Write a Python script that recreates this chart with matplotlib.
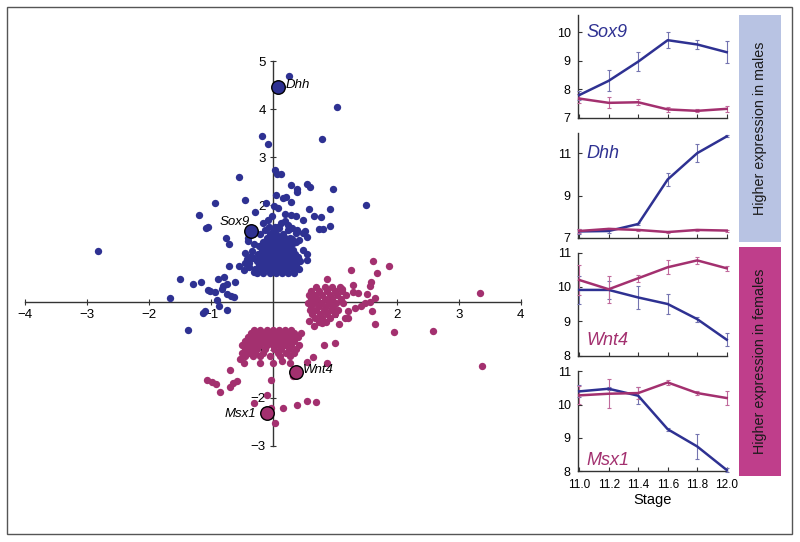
import matplotlib
matplotlib.use('Agg')
import matplotlib.pyplot as plt
from matplotlib.patches import Rectangle

plt.rcParams['font.family'] = ['Liberation Sans', 'DejaVu Sans']

BLUE = '#2e3192'
MAG = '#a3306f'
BLUE_ERR = '#7474b0'
MAG_ERR = '#c06a9c'
BAR_BLUE = '#b8c3e3'
BAR_MAG = '#bf3e8b'

# ---------------- scatter data ----------------
blue_pts = [
    (0.26, 4.69), (1.03, 4.05), (-0.17, 3.44), (-0.08, 3.27), (0.80, 3.37), (0.03, 2.74),
    (0.07, 2.65), (0.13, 2.65), (-0.54, 2.60), (0.30, 2.43), (0.39, 2.35), (0.39, 2.28),
    (0.56, 2.45), (0.60, 2.39), (0.97, 2.34), (0.05, 2.22), (0.16, 2.15), (0.21, 2.18),
    (0.30, 2.08), (1.50, 2.01), (-0.93, 2.05), (-0.45, 2.11), (-0.11, 2.05), (0.02, 1.98),
    (0.09, 1.94), (0.58, 1.93), (0.92, 1.92), (-1.19, 1.80), (-0.28, 1.87), (0.19, 1.82),
    (0.30, 1.80), (0.37, 1.78), (0.49, 1.70), (0.66, 1.77), (0.78, 1.75), (-1.05, 1.56),
    (-1.08, 1.52), (0.92, 1.57), (0.74, 1.50), (0.81, 1.51), (-0.15, 1.63), (-0.02, 1.78),
    (-0.76, 1.33), (-0.70, 1.20), (-2.82, 1.05), (0.56, 0.99), (0.56, 0.87), (0.43, 1.29),
    (0.52, 1.46), (0.38, 1.42), (0.31, 1.30), (0.26, 1.50), (0.13, 1.63), (0.10, 1.53),
    (-0.40, 1.33), (-0.40, 1.26), (-0.32, 0.91), (-0.29, 0.66), (-0.07, 1.70), (0.04, 1.56),
    (0.20, 1.67), (0.25, 1.60), (0.31, 1.53), (0.39, 1.49), (0.49, 1.43), (0.55, 1.35),
    (0.33, 1.22), (0.28, 1.32),
    (-1.50, 0.46), (-1.65, 0.07), (-1.29, 0.36), (-1.16, 0.41), (-1.02, 0.23), (-0.89, 0.47),
    (-0.79, 0.51), (-0.82, 0.27), (-0.73, 0.36), (-0.61, 0.40), (-0.73, 0.16), (-0.67, 0.11),
    (-0.62, 0.09), (-0.70, 0.75), (-0.54, 0.75), (-0.45, 0.80), (-0.47, 0.66), (-0.38, 0.72),
    (-0.30, 0.61), (-0.90, 0.03), (-0.86, -0.10), (-0.74, -0.17), (-1.12, -0.23), (-1.09, -0.19),
    (-1.36, -0.58), (-1.04, 0.25), (-0.93, 0.21), (-0.80, 0.32),
    # dense core
    (-0.25, 0.60), (-0.15, 0.60), (-0.05, 0.60), (0.05, 0.60), (0.15, 0.60), (0.25, 0.60), (0.35, 0.60),
    (-0.28, 0.68), (-0.18, 0.68), (-0.08, 0.68), (0.02, 0.68), (0.12, 0.68), (0.22, 0.68), (0.32, 0.68), (0.42, 0.68),
    (-0.22, 0.76), (-0.12, 0.76), (-0.02, 0.76), (0.08, 0.76), (0.18, 0.76), (0.28, 0.76), (0.38, 0.76),
    (-0.26, 0.84), (-0.16, 0.84), (-0.06, 0.84), (0.04, 0.84), (0.14, 0.84), (0.24, 0.84), (0.34, 0.84), (0.44, 0.84),
    (-0.20, 0.92), (-0.10, 0.92), (0.00, 0.92), (0.10, 0.92), (0.20, 0.92), (0.30, 0.92), (0.40, 0.92),
    (-0.24, 1.00), (-0.14, 1.00), (-0.04, 1.00), (0.06, 1.00), (0.16, 1.00), (0.26, 1.00), (0.36, 1.00),
    (-0.18, 1.08), (-0.08, 1.08), (0.02, 1.08), (0.12, 1.08), (0.22, 1.08), (0.32, 1.08), (0.48, 1.08),
    (-0.22, 1.16), (-0.12, 1.16), (-0.02, 1.16), (0.08, 1.16), (0.18, 1.16), (0.28, 1.16),
    (-0.16, 1.24), (-0.06, 1.24), (0.04, 1.24), (0.14, 1.24), (0.24, 1.24), (0.38, 1.24),
    (-0.10, 1.32), (0.00, 1.32), (0.10, 1.32), (0.20, 1.32),
    (-0.20, 1.40), (-0.04, 1.40), (0.06, 1.40), (0.16, 1.40),
    (-0.12, 1.48), (0.02, 1.48), (0.24, 1.48), (-0.06, 1.56), (0.08, 1.56),
    (-0.38, 0.80), (-0.35, 0.95), (-0.42, 0.88), (-0.33, 1.05), (-0.45, 1.02), (-0.30, 1.20),
]

mag_pts = [
    # cluster right of origin
    (0.70, 0.30), (0.85, 0.30), (0.95, 0.30), (1.08, 0.30),
    (0.62, 0.22), (0.75, 0.22), (0.88, 0.22), (1.00, 0.22), (1.12, 0.22),
    (0.58, 0.14), (0.68, 0.14), (0.80, 0.14), (0.92, 0.14), (1.04, 0.14), (1.18, 0.14),
    (0.62, 0.06), (0.72, 0.06), (0.84, 0.06), (0.96, 0.06), (1.10, 0.06),
    (0.57, -0.02), (0.66, -0.02), (0.78, -0.02), (0.90, -0.02), (1.02, -0.02), (1.14, -0.02),
    (0.62, -0.10), (0.74, -0.10), (0.86, -0.10), (0.98, -0.10),
    (0.60, -0.18), (0.70, -0.18), (0.82, -0.18), (0.94, -0.18), (1.06, -0.18),
    (0.64, -0.26), (0.76, -0.26), (0.88, -0.26), (1.00, -0.26),
    (0.68, -0.34), (0.80, -0.34), (0.92, -0.34), (0.74, -0.42), (0.86, -0.42),
    (1.26, 0.65), (1.61, 0.84), (1.88, 0.75), (1.68, 0.60), (0.87, 0.48), (1.59, 0.41),
    (1.57, 0.32), (1.29, 0.35), (1.11, 0.26), (1.30, 0.19), (1.38, 0.18), (1.52, 0.15),
    (1.65, 0.08), (1.57, -0.01), (1.33, -0.13), (1.22, -0.20), (1.17, -0.34), (1.07, -0.46),
    (1.65, -0.46), (1.60, -0.20), (1.21, -0.34), (1.43, -0.10), (1.49, -0.03),
    (0.58, -0.41), (0.66, -0.50), (0.79, -0.44),
    (3.35, 0.17), (3.37, -1.34), (1.96, -0.63), (2.58, -0.60),
    # cluster below origin
    (-0.30, -0.58), (-0.20, -0.58), (-0.10, -0.58), (0.00, -0.58), (0.10, -0.58), (0.20, -0.58), (0.30, -0.58),
    (-0.35, -0.66), (-0.25, -0.66), (-0.15, -0.66), (-0.05, -0.66), (0.05, -0.66), (0.15, -0.66), (0.25, -0.66), (0.35, -0.66), (0.45, -0.66),
    (-0.40, -0.74), (-0.30, -0.74), (-0.20, -0.74), (-0.10, -0.74), (0.00, -0.74), (0.10, -0.74), (0.20, -0.74), (0.30, -0.74), (0.40, -0.74),
    (-0.45, -0.82), (-0.35, -0.82), (-0.25, -0.82), (-0.15, -0.82), (-0.05, -0.82), (0.05, -0.82), (0.15, -0.82), (0.25, -0.82), (0.35, -0.82),
    (-0.50, -0.90), (-0.40, -0.90), (-0.30, -0.90), (-0.20, -0.90), (-0.10, -0.90), (0.00, -0.90), (0.10, -0.90), (0.20, -0.90), (0.30, -0.90), (0.42, -0.90),
    (-0.45, -0.98), (-0.35, -0.98), (-0.25, -0.98), (-0.12, -0.98), (0.02, -0.98), (0.14, -0.98), (0.26, -0.98), (0.38, -0.98),
    (-0.50, -1.06), (-0.38, -1.06), (-0.28, -1.06), (-0.15, -1.06), (0.08, -1.06), (0.22, -1.06), (0.34, -1.06),
    (-0.45, -1.14), (-0.32, -1.14), (-0.20, -1.14), (-0.05, -1.14), (0.12, -1.14), (0.28, -1.14),
    (-0.53, -1.20), (-0.47, -1.27), (-0.20, -1.27), (0.01, -1.27), (0.15, -1.24), (0.28, -1.27),
    (0.87, -1.27), (0.65, -1.15), (0.83, -0.91), (1.00, -0.87), (0.55, -1.25),
    (-0.69, -1.43), (-1.06, -1.63), (-0.98, -1.67), (-0.91, -1.72), (-0.85, -1.88),
    (-0.69, -1.77), (-0.64, -1.69), (-0.57, -1.65), (-0.03, -1.62), (-0.31, -2.10),
    (-0.10, -1.95), (-0.03, -2.21), (0.17, -2.21), (0.39, -2.15), (0.56, -2.07),
    (0.70, -2.09), (0.03, -2.53), (0.33, -1.55),
]

blue_x = [p[0] for p in blue_pts]
blue_y = [p[1] for p in blue_pts]
mag_x = [p[0] for p in mag_pts]
mag_y = [p[1] for p in mag_pts]

hl_names = ['Dhh', 'Sox9', 'Wnt4', 'Msx1']
hl_x = [0.08, -0.35, 0.38, -0.10]
hl_y = [4.47, 1.47, -1.46, -2.32]
hl_sex = ['m', 'm', 'f', 'f']

# ---------------- time-course data ----------------
stage = [11.0, 11.2, 11.4, 11.6, 11.8, 12.0]
sox9_m = [7.80, 8.30, 8.97, 9.72, 9.57, 9.30]
sox9_m_err = [0.16, 0.37, 0.33, 0.28, 0.15, 0.39]
sox9_f = [7.68, 7.53, 7.55, 7.30, 7.25, 7.32]
sox9_f_err = [0.16, 0.19, 0.11, 0.09, 0.05, 0.11]
dhh_m = [7.31, 7.33, 7.66, 9.76, 11.00, 11.79]
dhh_m_err = [0.13, 0.10, 0.05, 0.31, 0.41, 0.05]
dhh_f = [7.33, 7.43, 7.38, 7.28, 7.38, 7.35]
dhh_f_err = [0.08, 0.06, 0.05, 0.06, 0.04, 0.05]
wnt4_m = [9.91, 9.91, 9.69, 9.50, 9.06, 8.46]
wnt4_m_err = [0.40, 0.25, 0.33, 0.29, 0.07, 0.19]
wnt4_f = [10.20, 9.93, 10.25, 10.57, 10.77, 10.54]
wnt4_f_err = [0.45, 0.40, 0.10, 0.20, 0.10, 0.08]
msx1_m = [10.40, 10.48, 10.27, 9.26, 8.74, 8.03]
msx1_m_err = [0.18, 0.05, 0.25, 0.05, 0.38, 0.05]
msx1_f = [10.28, 10.33, 10.35, 10.67, 10.35, 10.20]
msx1_f_err = [0.27, 0.43, 0.19, 0.07, 0.07, 0.20]

W, H = 800, 542
fig = plt.figure(figsize=(W / 100, H / 100), dpi=100)

def fx(px):
    return px / W

def fy(py):
    return 1 - py / H

# outer frame
fig.patches.append(Rectangle((fx(7), fy(534)), fx(785), 527 / H, transform=fig.transFigure,
                             fill=False, ec='#555555', lw=1.0))

# ---------------- scatter ----------------
ax = fig.add_axes([fx(24.8), fy(446), fx(495.9), 385 / H])
ax.set_xlim(-4, 4)
ax.set_ylim(-3, 5)
for s in ['top', 'right']:
    ax.spines[s].set_visible(False)
for s in ['left', 'bottom']:
    ax.spines[s].set_position(('data', 0))
    ax.spines[s].set_color('#333333')
    ax.spines[s].set_linewidth(1.0)
ax.set_xticks([-4, -3, -2, -1, 1, 2, 3, 4])
ax.set_yticks([-3, -2, -1, 1, 2, 3, 4, 5])
ax.tick_params(direction='inout', length=5, width=0.8, colors='#333333', labelsize=9.5,
               labelcolor='black', pad=2.5)
ax.patch.set_alpha(0)

ax.scatter(blue_x, blue_y, s=28, c=BLUE, linewidths=0, zorder=3, clip_on=False)
ax.scatter(mag_x, mag_y, s=28, c=MAG, linewidths=0, zorder=3, clip_on=False)
for n, x, y, sx in zip(hl_names, hl_x, hl_y, hl_sex):
    ax.scatter([x], [y], s=95, c=BLUE if sx == 'm' else MAG, edgecolors='black',
               linewidths=1.0, zorder=5)

ax.text(0.21, 4.50, 'Dhh', style='italic', fontsize=9.5, ha='left', va='center', zorder=6)
ax.text(-0.62, 1.66, 'Sox9', style='italic', fontsize=9.5, ha='center', va='center', zorder=6)
ax.text(0.49, -1.42, 'Wnt4', style='italic', fontsize=9.5, ha='left', va='center', zorder=6)
ax.text(-0.26, -2.34, 'Msx1', style='italic', fontsize=9.5, ha='right', va='center', zorder=6)

# ---------------- time-course panels ----------------
L, R = 577.7, 726.7
panels = [
    (15, 118, (7, 10.6), [7, 8, 9, 10], sox9_m, sox9_m_err, sox9_f, sox9_f_err, 'Sox9', BLUE, 10.0),
    (133, 238, (7, 11.95), [7, 9, 11], dhh_m, dhh_m_err, dhh_f, dhh_f_err, 'Dhh', BLUE, 11.0),
    (252.5, 355.5, (8, 11), [8, 9, 10, 11], wnt4_m, wnt4_m_err, wnt4_f, wnt4_f_err, 'Wnt4', MAG, 8.45),
    (371.5, 471, (8, 11), [8, 9, 10, 11], msx1_m, msx1_m_err, msx1_f, msx1_f_err, 'Msx1', MAG, 8.31),
]
for i, (top, bot, yl, yt, m, me, f, fe, name, ncol, ny) in enumerate(panels):
    a = fig.add_axes([fx(L), fy(bot), fx(R - L), (bot - top) / H])
    a.set_xlim(10.99, 12.0)
    a.set_ylim(*yl)
    a.set_yticks(yt)
    a.set_xticks(stage)
    for s in ['top', 'right']:
        a.spines[s].set_visible(False)
    for s in ['left', 'bottom']:
        a.spines[s].set_color('#333333')
        a.spines[s].set_linewidth(1.0)
    a.tick_params(direction='in', length=3, width=0.8, colors='#333333', labelcolor='black',
                  labelsize=9)
    a.tick_params(axis='y', pad=5)
    a.tick_params(axis='x', pad=6, labelsize=8.5)
    if i < 3:
        a.tick_params(axis='x', labelbottom=False)
    else:
        a.set_xticklabels(['%.1f' % s for s in stage])
        a.set_xlabel('Stage', fontsize=10.5, labelpad=1)
    a.patch.set_alpha(0)
    a.errorbar(stage, m, yerr=me, color=BLUE, lw=1.8, ecolor=BLUE_ERR, elinewidth=0.8,
               capsize=1.5, capthick=0.8, clip_on=False, zorder=3)
    a.errorbar(stage, f, yerr=fe, color=MAG, lw=1.8, ecolor=MAG_ERR, elinewidth=0.8,
               capsize=1.5, capthick=0.8, clip_on=False, zorder=3)
    a.text(11.05, ny, name, style='italic', fontsize=13, color=ncol, ha='left', va='center')

# side bars
fig.patches.append(Rectangle((fx(739.3), fy(242.3)), fx(42), 227.3 / H, transform=fig.transFigure,
                             fc=BAR_BLUE, ec='none'))
fig.patches.append(Rectangle((fx(739.3), fy(476)), fx(42), 229.3 / H, transform=fig.transFigure,
                             fc=BAR_MAG, ec='none'))
fig.text(fx(760.3), fy(128.7), 'Higher expression in males', rotation=90, ha='center',
         va='center', fontsize=10.3, color='#1a1a1a')
fig.text(fx(760.3), fy(361.3), 'Higher expression in females', rotation=90, ha='center',
         va='center', fontsize=10.3, color='#1a1a1a')

fig.savefig('out.png', dpi=100)
